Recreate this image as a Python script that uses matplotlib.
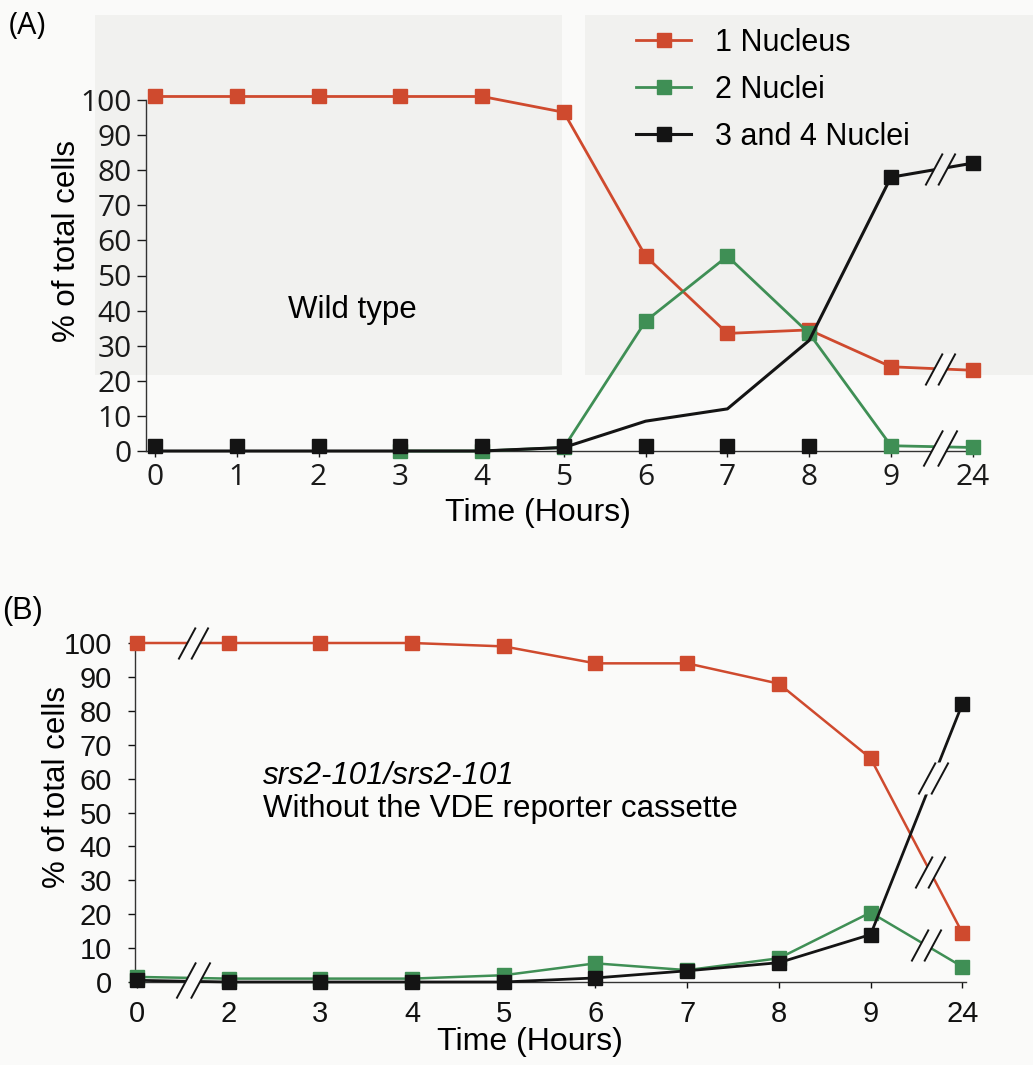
import numpy as np
import matplotlib
matplotlib.use("Agg")
import matplotlib.pyplot as plt
from matplotlib.path import Path
from matplotlib.patches import Rectangle
from matplotlib.lines import Line2D

# ---------------- data ----------------
a_labels = ["0", "1", "2", "3", "4", "5", "6", "7", "8", "9", "24"]
a_red = [101, 101, 101, 101, 101, 96.5, 55.5, 33.5, 34.5, 24, 23]
a_green = [np.nan, np.nan, np.nan, 0, 0, 1, 37, 55.5, 33.5, 1.5, 1]
a_black_line = [0, 0, 0, 0, 0, 1, 8.5, 12, 31.5, 78, 82]
a_black_pts = [1.5, 1.5, 1.5, 1.5, 1.5, 1.5, 1.5, 1.5, 1.5, 78, 82]

b_labels = ["0", "2", "3", "4", "5", "6", "7", "8", "9", "24"]
b_red = [100, 100, 100, 100, 99, 94, 94, 88, 66, 14.5]
b_green = [1.5, 1, 1, 1, 2, 5.5, 3.5, 7, 20.5, 4.5]
b_black = [0.5, 0, 0, 0, 0, 1.2, 3.3, 5.7, 14, 82]

series_names = ["1 Nucleus", "2 Nuclei", "3 and 4 Nuclei"]
y_ticks = list(range(0, 101, 10))

RED = '#cf4a2e'
GREEN = '#3f8f55'
BLACK = '#141414'
BG = '#fafaf9'
GRAY = '#f1f1ef'

W, H = 1033, 1065
fig = plt.figure(figsize=(W / 100, H / 100), dpi=100, facecolor=BG)


def px(x, y):
    return x / W, 1 - y / H


def rect(x0, y0, x1, y1, color):
    fig.add_artist(Rectangle((x0 / W, 1 - y1 / H), (x1 - x0) / W, (y1 - y0) / H,
                             transform=fig.transFigure, facecolor=color,
                             edgecolor='none', zorder=0))


# scan background shading
rect(95, 15, 562, 375, GRAY)
rect(585, 15, 1033, 375, GRAY)

SANS = 'Liberation Sans'
GOTH = 'Open Sans'
TXT = 22.5

slash_path = Path([(-0.47, -0.5), (0.07, 0.5), (-0.07, -0.5), (0.47, 0.5)],
                  [Path.MOVETO, Path.LINETO, Path.MOVETO, Path.LINETO])
gap_path = Path([(-0.47, -0.5), (-0.07, -0.5), (0.47, 0.5), (0.07, 0.5), (-0.47, -0.5)],
                [Path.MOVETO, Path.LINETO, Path.LINETO, Path.LINETO, Path.CLOSEPOLY])


def draw_break(ax, x, y, size=23, bg=BG):
    ax.plot([x], [y], linestyle='none', marker=gap_path, ms=size, mfc=bg,
            mec='none', clip_on=False, zorder=8)
    ax.plot([x], [y], linestyle='none', marker=slash_path, ms=size, mfc='none',
            mec=BLACK, mew=1.4, clip_on=False, zorder=9)


def style_axes(ax):
    ax.set_facecolor('none')
    for s in ['top', 'right']:
        ax.spines[s].set_visible(False)
    for s in ['left', 'bottom']:
        ax.spines[s].set_color('#333333')
        ax.spines[s].set_linewidth(1.0)
    ax.set_ylim(0, 100)
    ax.set_yticks(y_ticks)


# ---------------- panel A ----------------
axA = fig.add_axes([146 / W, 1 - 451 / H, (976 - 146) / W, 351 / H])
style_axes(axA)
xa = np.arange(len(a_labels))
axA.set_xlim(-0.11, 10.04)
axA.set_xticks(xa)
axA.set_xticklabels(a_labels)
axA.tick_params(axis='y', length=6.5, width=1, pad=4.0, labelsize=21.5, colors='#1a1a1a')
axA.tick_params(axis='x', length=4, width=1, pad=4.5, labelsize=21.5, colors='#1a1a1a')
for lab in axA.get_xticklabels() + axA.get_yticklabels():
    lab.set_fontfamily(GOTH)

ms_a = 10
lr, = axA.plot(xa, a_red, color=RED, lw=2, marker='s', ms=ms_a, clip_on=False, zorder=3)
lg, = axA.plot(xa, a_green, color=GREEN, lw=2, marker='s', ms=ms_a, clip_on=False, zorder=3.5)
axA.plot(xa, a_black_line, color=BLACK, lw=2.2, clip_on=False, zorder=4)
axA.plot(xa, a_black_pts, linestyle='none', color=BLACK, marker='s', ms=ms_a,
         clip_on=False, zorder=4.5)

xb = 9.6
draw_break(axA, xb, np.interp(xb, xa, a_black_line), bg=GRAY)
draw_break(axA, xb, np.interp(xb, xa, a_red), bg=BG)
draw_break(axA, xb, 0.8, size=26, bg=BG)

hb = Line2D([], [], color=BLACK, lw=2.2, marker='s', ms=ms_a)
leg = axA.legend([lr, lg, hb], series_names, loc='upper left',
                 bbox_to_anchor=px(636, 28), bbox_transform=fig.transFigure,
                 frameon=False, prop={'family': SANS, 'size': 22},
                 handlelength=1.8, handletextpad=0.8, labelspacing=0.55,
                 borderpad=0, borderaxespad=0)

fig.text(*px(9, 26), "(A)", fontsize=22, family=GOTH, va='center', ha='left')
fig.text(*px(67, 241), "% of total cells", fontsize=TXT, family=SANS,
         rotation=90, va='center', ha='center')
fig.text(*px(538, 513), "Time (Hours)", fontsize=23, family=SANS, va='center', ha='center')
fig.text(*px(288, 310), "Wild type", fontsize=TXT, family=SANS, va='center', ha='left')

# ---------------- panel B ----------------
axB = fig.add_axes([135 / W, 1 - 982 / H, (966 - 135) / W, 339 / H])
style_axes(axB)
xbpos = np.arange(len(b_labels))
axB.set_xlim(-0.02, 9.04)
axB.set_xticks(xbpos)
axB.set_xticklabels(b_labels)
axB.tick_params(axis='y', length=5, width=1, pad=11.5, labelsize=21, colors='#111111')
axB.tick_params(axis='x', length=4, width=1, pad=8.6, labelsize=21, colors='#111111')
for lab in axB.get_xticklabels() + axB.get_yticklabels():
    lab.set_fontfamily(SANS)

ms_b = 9.5
axB.plot(xbpos, b_red, color=RED, lw=1.8, marker='s', ms=ms_b, clip_on=False, zorder=3)
axB.plot(xbpos, b_green, color=GREEN, lw=1.8, marker='s', ms=ms_b, clip_on=False, zorder=3.5)
axB.plot(xbpos, b_black, color=BLACK, lw=2.0, marker='s', ms=ms_b, clip_on=False, zorder=4)

xl = 0.61
draw_break(axB, xl, np.interp(xl, xbpos, b_red))
draw_break(axB, xl, 0.5, size=26)
xr = 8.65
draw_break(axB, xr + 0.03, np.interp(xr + 0.03, xbpos, b_black))
draw_break(axB, xr, np.interp(xr, xbpos, b_red))
draw_break(axB, xr - 0.05, np.interp(xr - 0.05, xbpos, b_green))

fig.text(*px(2, 611), "(B)", fontsize=22, family=SANS, va='center', ha='left')
fig.text(*px(57, 787), "% of total cells", fontsize=TXT, family=SANS,
         rotation=90, va='center', ha='center')
fig.text(*px(530, 1042), "Time (Hours)", fontsize=23, family=SANS, va='center', ha='center')
fig.text(*px(263, 776), "srs2-101/srs2-101", fontsize=TXT, family=SANS, style='italic',
         va='center', ha='left')
fig.text(*px(263, 809), "Without the VDE reporter cassette", fontsize=TXT, family=SANS,
         va='center', ha='left')

fig.savefig("out.png", dpi=100, facecolor=BG)
